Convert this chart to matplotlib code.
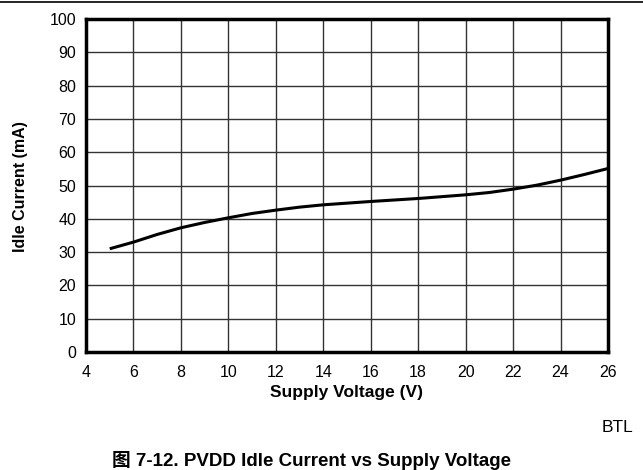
import matplotlib
matplotlib.use("Agg")
import matplotlib.pyplot as plt
from matplotlib.lines import Line2D

plt.rcParams['font.family'] = ['Liberation Sans', 'Noto Sans CJK SC', 'DejaVu Sans']

voltage = [5, 6, 7, 8, 9, 10, 11, 12, 13, 14, 16, 18, 20, 21, 22, 23, 24, 25, 26]
current = [31.0, 33.0, 35.3, 37.3, 38.9, 40.3, 41.6, 42.6, 43.5, 44.2, 45.2, 46.1, 47.2, 47.9, 48.9, 50.1, 51.6, 53.3, 55.1]

x_ticks = [4, 6, 8, 10, 12, 14, 16, 18, 20, 22, 24, 26]
y_ticks = [0, 10, 20, 30, 40, 50, 60, 70, 80, 90, 100]

fig = plt.figure(figsize=(6.43, 4.70), dpi=100)
ax = fig.add_axes([86/643, 1-352/470, (608-86)/643, (352-19)/470])

ax.plot(voltage, current, color='black', lw=2.2, solid_capstyle='butt')
ax.set_xlim(4, 26)
ax.set_ylim(0, 100)
ax.set_xticks(x_ticks)
ax.set_yticks(y_ticks)
ax.grid(True, color='#333333', lw=1.0)
ax.set_axisbelow(True)
for s in ax.spines.values():
    s.set_linewidth(2.5)
    s.set_color('black')
ax.tick_params(length=0, labelsize=11.5, colors='black')
ax.tick_params(axis='x', pad=9.5)
ax.tick_params(axis='y', pad=7)
ax.set_xlabel('Supply Voltage (V)', fontsize=12.5, fontweight='bold', va='top')
ax.xaxis.set_label_coords(0.499, -0.100)
ax.set_ylabel('Idle Current (mA)', fontsize=11.5, fontweight='bold')
ax.yaxis.set_label_coords(-0.112, 0.498)

fig.add_artist(Line2D([0, 1], [1-1.5/470, 1-1.5/470], color='black', lw=1.2, transform=fig.transFigure))
fig.text(633/643, 1-431.7/470, 'BTL', ha='right', va='baseline', fontsize=12.5)
fig.text(312/643, 1-465.5/470, '图 7-12. PVDD Idle Current vs Supply Voltage', ha='center', va='baseline',
         fontsize=13.5, fontweight='bold')

fig.savefig('out.png', dpi=100)
